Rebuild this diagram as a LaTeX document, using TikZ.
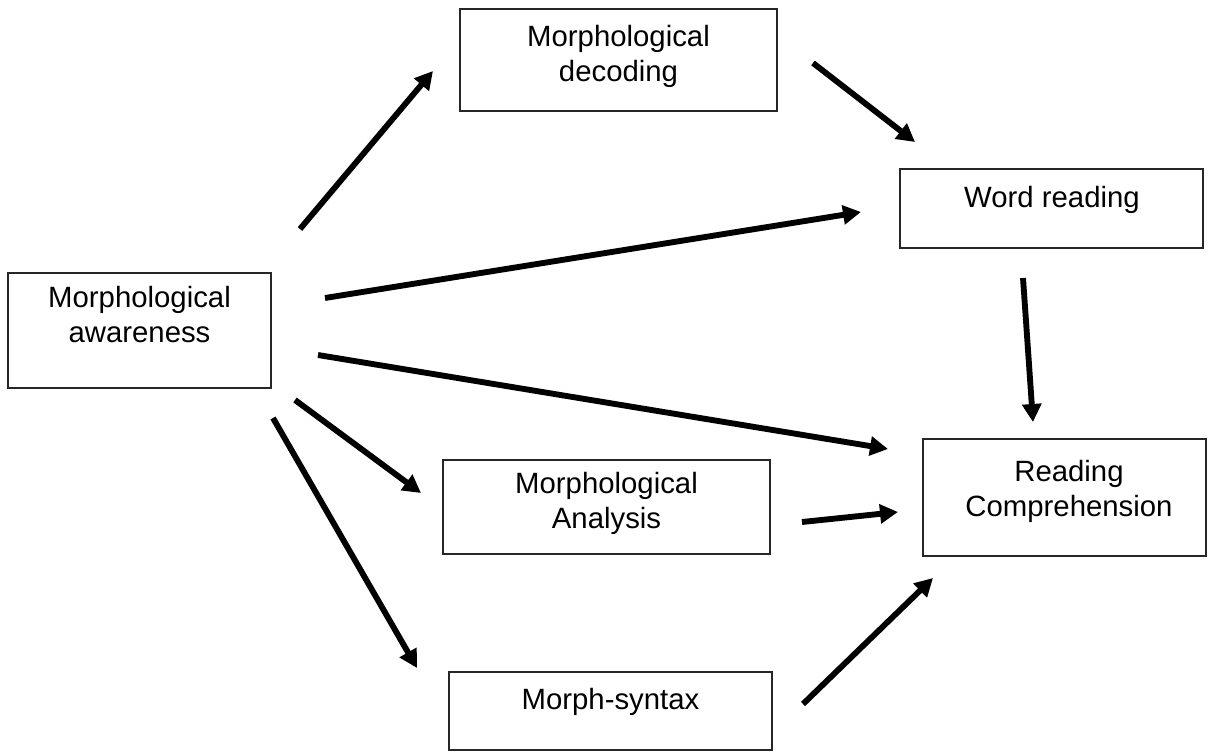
\documentclass[tikz,border=0pt]{standalone}
\usepackage{fontspec}
\setmainfont{Liberation Sans}
\usetikzlibrary{arrows.meta,fit}
\tikzset{
	box/.style={draw=black!85,line width=1pt,inner sep=0pt},
	lbl/.style={align=center,anchor=north,inner sep=0pt,font=\fontsize{22}{26.4}\selectfont},
	arr/.style={line width=4.4pt,-{Triangle[length=13.5pt,width=14pt]}}
}
\begin{document}
\begin{tikzpicture}[x=0.75pt,y=-0.75pt]
	\useasboundingbox (0,0) rectangle (1209,753);
	\node[box,fit={(8,273) (271,388)}] (aware) {};
	\node[box,fit={(460,9) (777,111)}] (decod) {};
	\node[box,fit={(900,169) (1203,248)}] (word) {};
	\node[box,fit={(923,439) (1206,556)}] (comp) {};
	\node[box,fit={(443,460) (770,554)}] (anal) {};
	\node[box,fit={(449,672) (772,750)}] (synt) {};
	\node[lbl] (awaretxt) at (139.5,286) {Morphological\\awareness};
	\node[lbl] (decodtxt) at (618.5,25) {Morphological\\decoding};
	\node[lbl] (wordtxt) at (1052,186) {Word reading};
	\node[lbl] (comptxt) at (1069,460) {Reading\\Comprehension};
	\node[lbl] (analtxt) at (606.5,472) {Morphological\\Analysis};
	\node[lbl] (synttxt) at (610.5,688) {Morph-syntax};
	\coordinate (a1s) at (300,229);
	\coordinate (a1e) at (433,71);
	\coordinate (a2s) at (325,298);
	\coordinate (a2e) at (861,212);
	\coordinate (a3s) at (318,355);
	\coordinate (a3e) at (888,449);
	\coordinate (a4s) at (295,400);
	\coordinate (a4e) at (421,493);
	\coordinate (a5s) at (273,418);
	\coordinate (a5e) at (417,668);
	\coordinate (a6s) at (813,63);
	\coordinate (a6e) at (915,142);
	\coordinate (a7s) at (1023,278);
	\coordinate (a7e) at (1033,422);
	\coordinate (a8s) at (802,522);
	\coordinate (a8e) at (898,512);
	\coordinate (a9s) at (803,704);
	\coordinate (a9e) at (933,578);
	\draw[arr] (a1s) -- (a1e);
	\draw[arr] (a2s) -- (a2e);
	\draw[arr] (a3s) -- (a3e);
	\draw[arr] (a4s) -- (a4e);
	\draw[arr] (a5s) -- (a5e);
	\draw[arr] (a6s) -- (a6e);
	\draw[arr] (a7s) -- (a7e);
	\draw[arr] (a8s) -- (a8e);
	\draw[arr] (a9s) -- (a9e);
\end{tikzpicture}
\end{document}
